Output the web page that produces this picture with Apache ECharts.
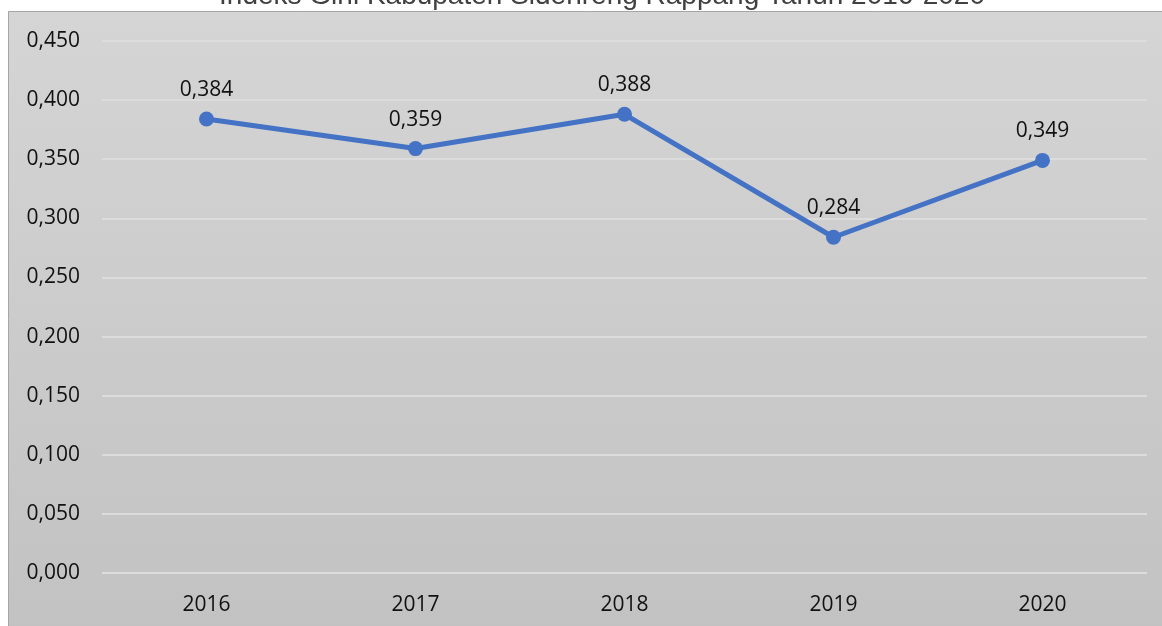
<!DOCTYPE html>
<html>
<head>
<meta charset="utf-8">
<script src="https://cdn.jsdelivr.net/npm/echarts@6/dist/echarts.min.js"></script>
<style>
  html, body { margin: 0; padding: 0; background: #ffffff; }
  #chart { width: 1162px; height: 626px; }
</style>
</head>
<body>
<div id="chart"></div>
<script>
// Indeks Gini Kabupaten Sidenreng Rappang 2016-2020
const years = ["2016", "2017", "2018", "2019", "2020"];
const giniValues = [0.384, 0.359, 0.388, 0.284, 0.349];

const fmt = (v) => Number(v).toFixed(3).replace(".", ",");

const chart = echarts.init(document.getElementById("chart"));
const font = "'Open Sans', 'Noto Sans', sans-serif";

chart.setOption({
  backgroundColor: "#ffffff",
  animation: false,
  title: {
    text: "Indeks Gini Kabupaten Sidenreng Rappang Tahun 2016-2020",
    left: 602,
    textAlign: "center",
    top: -18,
    padding: 0,
    textStyle: {
      fontFamily: "'Liberation Sans', Arial, sans-serif",
      fontSize: 28,
      fontWeight: "normal",
      color: "#404040"
    }
  },
  graphic: [
    {
      type: "rect",
      z: -10,
      silent: true,
      shape: { x: 8.5, y: 11.5, width: 1170, height: 620 },
      style: {
        fill: new echarts.graphic.LinearGradient(0, 0, 0, 1, [
          { offset: 0, color: "#d5d5d5" },
          { offset: 1, color: "#c2c2c2" }
        ]),
        stroke: "#a6a6a6",
        lineWidth: 1
      }
    }
  ],
  grid: {
    left: 102,
    right: 15,
    top: 41,
    bottom: 53
  },
  xAxis: {
    type: "category",
    data: years,
    boundaryGap: true,
    axisLine: { show: false },
    axisTick: { show: false },
    axisLabel: {
      margin: 22,
      fontSize: 21,
      fontFamily: font,
      color: "#111111"
    }
  },
  yAxis: {
    type: "value",
    min: 0,
    max: 0.45,
    interval: 0.05,
    axisLine: { show: false },
    axisTick: { show: false },
    splitLine: { lineStyle: { color: "#dcdcdc", width: 2 } },
    axisLabel: {
      margin: 22,
      fontSize: 21,
      fontFamily: font,
      color: "#111111",
      formatter: fmt
    }
  },
  series: [
    {
      name: "Indeks Gini",
      type: "line",
      data: giniValues,
      symbol: "circle",
      symbolSize: 15,
      itemStyle: { color: "#4472c4" },
      lineStyle: { color: "#4472c4", width: 5 },
      label: {
        show: true,
        position: "top",
        distance: 11,
        fontSize: 21,
        fontFamily: font,
        color: "#111111",
        formatter: (p) => fmt(p.value)
      }
    }
  ]
});
</script>
</body>
</html>
